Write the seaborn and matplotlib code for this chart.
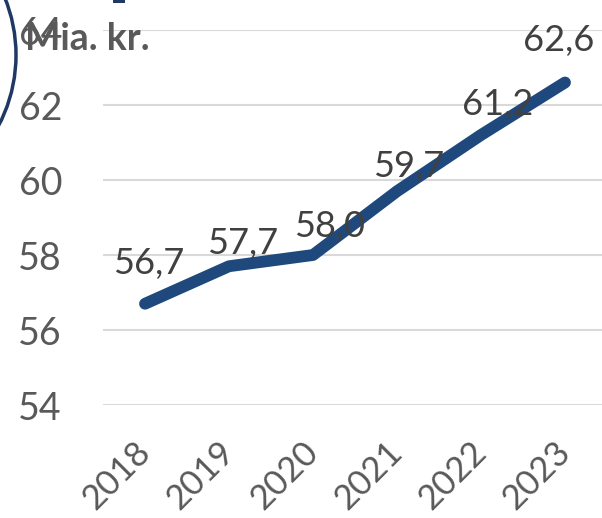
import matplotlib
matplotlib.use("Agg")
import matplotlib.pyplot as plt
import seaborn as sns
import pandas as pd
from matplotlib.patches import Circle, Rectangle

years = ["2018", "2019", "2020", "2021", "2022", "2023"]
values = [56.7, 57.7, 58.0, 59.7, 61.2, 62.6]
labels = ["56,7", "57,7", "58,0", "59,7", "61,2", "62,6"]
yticks = [54, 56, 58, 60, 62, 64]
unit = "Mia. kr."

# label placement offsets (pixels, dx, dy of baseline above point)
label_offsets = [(4, 30), (14, 12), (17, 18), (12, 14), (17, 20), (-6, 32)]

sns.set_theme(style="white")
plt.rcParams["font.family"] = ["Lato", "DejaVu Sans"]

df = pd.DataFrame({"year": years, "value": values})
df["x"] = range(len(years))

fig = plt.figure(figsize=(6.02, 5.18), dpi=100)
ax = fig.add_axes([103/602, 1-405/518, 504/602, 375/518])

sns.lineplot(data=df, x="x", y="value", ax=ax, color="#1f497d", linewidth=8.5,
             solid_capstyle="round", solid_joinstyle="round", zorder=3)

ax.set_xlim(-0.5, 5.5)
ax.set_ylim(54, 64)
ax.set_yticks(yticks)
ax.set_yticklabels([str(t) for t in yticks])
ax.set_xticks(df["x"])
ax.set_xticklabels(years, rotation=45, ha="right", va="center", rotation_mode="anchor")
ax.tick_params(axis="x", labelsize=25, colors="#595959", pad=30, length=0)
ax.tick_params(axis="y", labelsize=27, colors="#595959", pad=29.5, length=0)
ax.set_xlabel("")
ax.set_ylabel("")
ax.grid(axis="y", color="#d9d9d9", linewidth=1.5)
ax.set_axisbelow(True)
for s in ax.spines.values():
    s.set_visible(False)
ax.patch.set_alpha(0)

for x, v, lab, (dx, dy) in zip(df["x"], values, labels, label_offsets):
    ax.annotate(lab, (x, v), xytext=(dx * 0.72, dy * 0.72), textcoords="offset points",
                ha="center", va="baseline", fontsize=26, color="#404040", zorder=4)

fig.text(25/602, 1-50/518, unit, fontsize=27, fontweight="bold", color="#595959",
         ha="left", va="baseline")

circ = Circle((-136/100, (518-55)/100), 152/100, transform=fig.dpi_scale_trans,
              fill=False, edgecolor="#1f3864", linewidth=2.5)
fig.patches.append(circ)
mark = Rectangle((113/100, (518-3)/100), 12/100, 3/100, transform=fig.dpi_scale_trans,
                 facecolor="#1f3864", edgecolor="none")
fig.patches.append(mark)

fig.savefig("out.png", dpi=100)
